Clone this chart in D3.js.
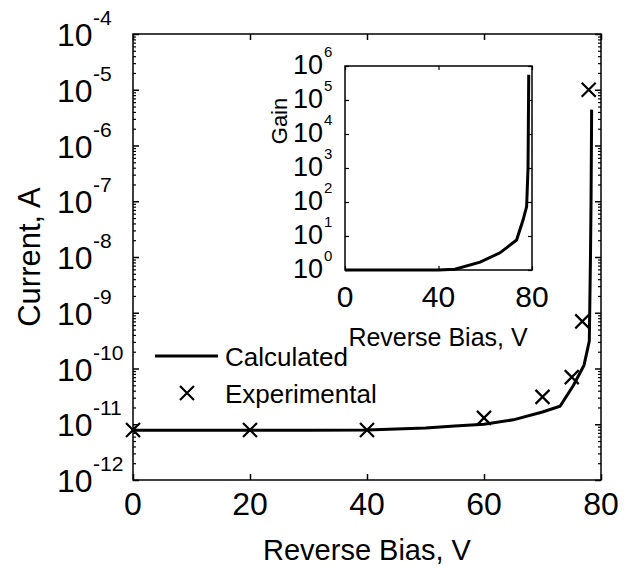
<!DOCTYPE html>
<html>
<head>
<meta charset="utf-8">
<script src="https://cdn.jsdelivr.net/npm/d3@7"></script>
<style>
  body { margin: 0; background: #fff; }
  text { font-family: "Liberation Sans", Arial, sans-serif; fill: #000; }
  .domain { display: none; }
</style>
</head>
<body>
<div id="chart"></div>
<script>
// main plot data
var calcV = [0, 10, 20, 30, 40, 50, 55, 60, 65, 70, 73, 75.3, 77.1, 78, 78.2, 78.3, 78.4];
var calcI = [7.8e-12, 7.8e-12, 7.8e-12, 7.8e-12, 7.9e-12, 8.6e-12, 9.3e-12, 1.0e-11, 1.2e-11, 1.66e-11, 2.1e-11, 5e-11, 1.15e-10, 3.1e-10, 1e-8, 1e-7, 4.4e-6];
var expV = [0, 20, 40, 60, 70, 75, 76.8, 77.9];
var expI = [7.9e-12, 7.9e-12, 7.9e-12, 1.3e-11, 3.1e-11, 7e-11, 7e-10, 1.0e-5];

// inset data
var gainV = [0, 20, 40, 47, 57.8, 66.3, 73.4, 76.2, 77.7, 78.3, 78.6];
var gainG = [1, 1, 1, 1.05, 1.7, 3.2, 7.6, 30, 73, 1e3, 5.5e5];

var xTicks = [0, 20, 40, 60, 80];
var yExps = [-12, -11, -10, -9, -8, -7, -6, -5, -4];
var xiTicks = [0, 40, 80];
var yiExps = [0, 1, 2, 3, 4, 5, 6];
var legendLabels = ["Calculated", "Experimental"];

var svg = d3.select('#chart').append('svg')
            .attr('width', 644).attr('height', 568);
svg.append('rect').attr('width', 644).attr('height', 568).attr('fill', '#fff');

var x = d3.scaleLinear().domain([0, 80]).range([133, 601]);
var y = d3.scaleLog().domain([1e-12, 1e-4]).range([480, 34]);

// minor tick values for log axis
var minorMain = [];
yExps.slice(0, -1).forEach(function(e) {
  for (var k = 2; k <= 9; k++) minorMain.push(k * Math.pow(10, e));
});

var tickStyle = function(g, w) {
  g.selectAll('line').attr('stroke', '#000').attr('stroke-width', w);
  g.selectAll('text').remove();
};

// ticks main
svg.append('g').attr('transform', 'translate(0,480)')
   .call(d3.axisBottom(x).tickValues(xTicks).tickSize(-6)).call(tickStyle, 1.5);
svg.append('g').attr('transform', 'translate(0,34)')
   .call(d3.axisTop(x).tickValues(xTicks).tickSize(-6)).call(tickStyle, 1.5);
svg.append('g').attr('transform', 'translate(133,0)')
   .call(d3.axisLeft(y).tickValues(yExps.map(function(e){ return Math.pow(10, e); })).tickSize(-6)).call(tickStyle, 1.5);
svg.append('g').attr('transform', 'translate(133,0)')
   .call(d3.axisLeft(y).tickValues(minorMain).tickSize(-3)).call(tickStyle, 1.2);
svg.append('g').attr('transform', 'translate(601,0)')
   .call(d3.axisRight(y).tickValues(yExps.map(function(e){ return Math.pow(10, e); })).tickSize(-6)).call(tickStyle, 1.5);
svg.append('g').attr('transform', 'translate(601,0)')
   .call(d3.axisRight(y).tickValues(minorMain).tickSize(-3)).call(tickStyle, 1.2);

svg.append('rect').attr('x', 133).attr('y', 34).attr('width', 468).attr('height', 446)
   .attr('fill', 'none').attr('stroke', '#000').attr('stroke-width', 1.5);

// tick labels main
svg.selectAll('.xl').data(xTicks).enter().append('text')
   .attr('x', function(d){ return x(d); }).attr('y', 515)
   .attr('text-anchor', 'middle').style('font-size', '32px').text(function(d){ return d; });
svg.selectAll('.yl').data(yExps).enter().append('text')
   .attr('x', 57).attr('y', function(d){ return y(Math.pow(10, d)) + 12; })
   .style('font-size', '32px').text('10');
svg.selectAll('.ys').data(yExps).enter().append('text')
   .attr('x', 93).attr('y', function(d){ return y(Math.pow(10, d)) - 9; })
   .style('font-size', '21px').text(function(d){ return '-' + Math.abs(d); });

svg.append('text').attr('x', 367).attr('y', 560).attr('text-anchor', 'middle')
   .style('font-size', '29px').text('Reverse Bias, V');
svg.append('text').attr('transform', 'translate(40,257) rotate(-90)').attr('text-anchor', 'middle')
   .style('font-size', '31px').text('Current, A');

// calculated line
var line = d3.line().x(function(d){ return x(d[0]); }).y(function(d){ return y(d[1]); });
svg.append('path').datum(d3.zip(calcV, calcI)).attr('d', line)
   .attr('fill', 'none').attr('stroke', '#000').attr('stroke-width', 3);

// experimental crosses
var cross = function(cx, cy, s) {
  return 'M' + (cx - s) + ',' + (cy - s) + 'L' + (cx + s) + ',' + (cy + s) +
         'M' + (cx - s) + ',' + (cy + s) + 'L' + (cx + s) + ',' + (cy - s);
};
svg.selectAll('.pt').data(d3.zip(expV, expI)).enter().append('path')
   .attr('d', function(d){ return cross(x(d[0]), y(d[1]), 7); })
   .attr('stroke', '#000').attr('stroke-width', 2.2).attr('fill', 'none');

// legend
svg.append('line').attr('x1', 155).attr('x2', 218).attr('y1', 356).attr('y2', 356)
   .attr('stroke', '#000').attr('stroke-width', 3);
svg.append('path').attr('d', cross(187, 393, 7))
   .attr('stroke', '#000').attr('stroke-width', 2.2).attr('fill', 'none');
svg.selectAll('.lg').data(legendLabels).enter().append('text')
   .attr('x', 225).attr('y', function(d, i){ return 366 + i * 37; })
   .style('font-size', '26px').text(function(d){ return d; });

// inset
var xi = d3.scaleLinear().domain([0, 80]).range([345, 532]);
var yi = d3.scaleLog().domain([1, 1e6]).range([270, 66]);
var yiVals = yiExps.map(function(e){ return Math.pow(10, e); });

svg.append('rect').attr('x', 345).attr('y', 66).attr('width', 187).attr('height', 204)
   .attr('fill', '#fff');
svg.append('g').attr('transform', 'translate(0,270)')
   .call(d3.axisBottom(xi).tickValues(xiTicks).tickSize(-4)).call(tickStyle, 1.2);
svg.append('g').attr('transform', 'translate(0,66)')
   .call(d3.axisTop(xi).tickValues(xiTicks).tickSize(-4)).call(tickStyle, 1.2);
svg.append('g').attr('transform', 'translate(345,0)')
   .call(d3.axisLeft(yi).tickValues(yiVals).tickSize(-4)).call(tickStyle, 1.2);
svg.append('g').attr('transform', 'translate(532,0)')
   .call(d3.axisRight(yi).tickValues(yiVals).tickSize(-4)).call(tickStyle, 1.2);
svg.append('rect').attr('x', 345).attr('y', 66).attr('width', 187).attr('height', 204)
   .attr('fill', 'none').attr('stroke', '#000').attr('stroke-width', 1.5);

var linei = d3.line().x(function(d){ return xi(d[0]); }).y(function(d){ return yi(d[1]); });
svg.append('path').datum(d3.zip(gainV, gainG)).attr('d', linei)
   .attr('fill', 'none').attr('stroke', '#000').attr('stroke-width', 3);

svg.selectAll('.xil').data(xiTicks).enter().append('text')
   .attr('x', function(d){ return xi(d); }).attr('y', 307)
   .attr('text-anchor', 'middle').style('font-size', '30px').text(function(d){ return d; });
svg.selectAll('.yil').data(yiExps).enter().append('text')
   .attr('x', 293).attr('y', function(d){ return yi(Math.pow(10, d)) + 8; })
   .style('font-size', '27px').text('10');
svg.selectAll('.yis').data(yiExps).enter().append('text')
   .attr('x', 324).attr('y', function(d){ return yi(Math.pow(10, d)) - 9; })
   .style('font-size', '15px').text(function(d){ return d; });

svg.append('text').attr('x', 438).attr('y', 346).attr('text-anchor', 'middle')
   .style('font-size', '25px').text('Reverse Bias, V');
svg.append('text').attr('transform', 'translate(287,121) rotate(-90)').attr('text-anchor', 'middle')
   .style('font-size', '22px').text('Gain');
</script>
</body>
</html>
